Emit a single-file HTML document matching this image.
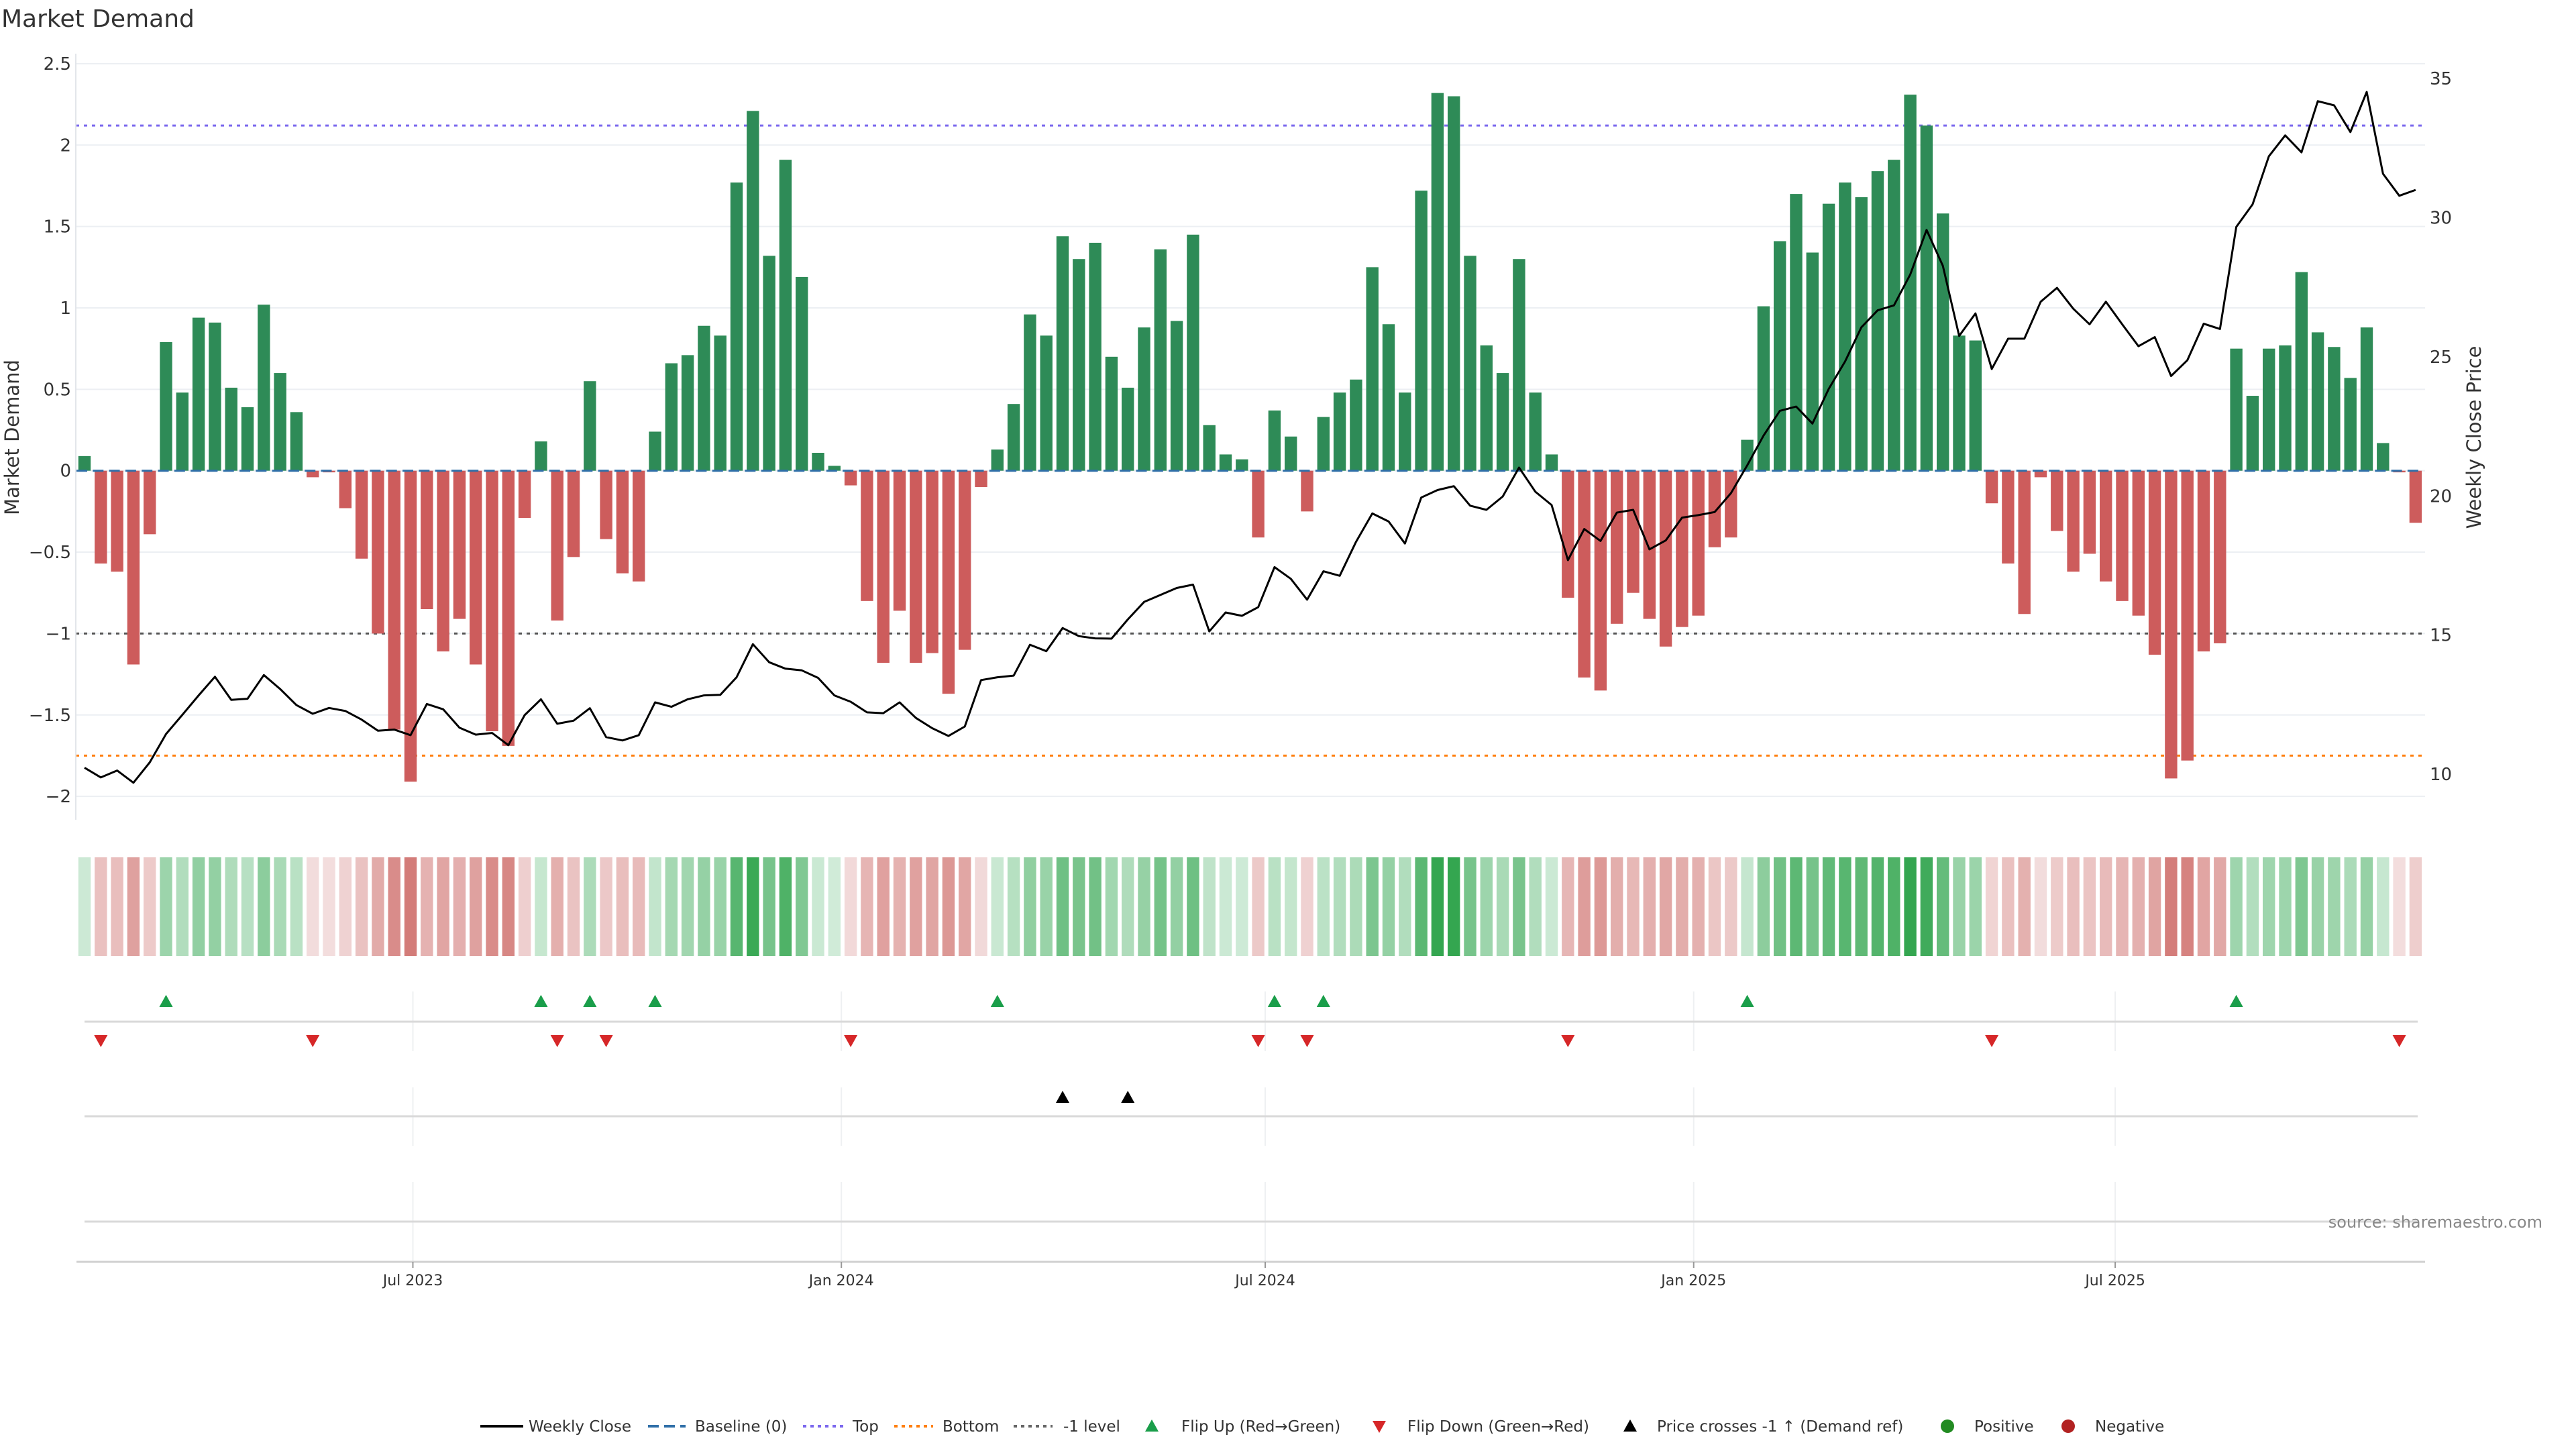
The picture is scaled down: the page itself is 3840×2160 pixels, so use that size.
<!DOCTYPE html>
<html><head><meta charset="utf-8"><title>Market Demand</title>
<style>
html,body{margin:0;padding:0;background:#fff;}
svg{display:block;font-family:"DejaVu Sans","Liberation Sans",sans-serif;}
</style></head>
<body>
<svg id="chart" width="3840" height="2160" viewBox="0 0 3840 2160" xmlns="http://www.w3.org/2000/svg">
<rect width="3840" height="2160" fill="#fff"/>
<text x="2" y="40" font-size="36" fill="#333">Market Demand</text>
<g id="grid"></g>
<g id="lines"></g>
<g id="bars"></g>
<g id="price"></g>
<g id="axes"></g>
<g id="strip"></g>
<g id="flips"></g>
<g id="legend"></g>
<text transform="translate(28,652) rotate(-90)" text-anchor="middle" font-size="29" fill="#333">Market Demand</text>
<text transform="translate(3698,652) rotate(-90)" text-anchor="middle" font-size="29" fill="#333">Weekly Close Price</text>
<text x="3790" y="1830" text-anchor="end" font-size="24" fill="#888">source: sharemaestro.com</text>
</svg>
<script>
const demand = [0.09,-0.57,-0.62,-1.19,-0.39,0.79,0.48,0.94,0.91,0.51,0.39,1.02,0.60,0.36,-0.04,-0.01,-0.23,-0.54,-1.00,-1.59,-1.91,-0.85,-1.11,-0.91,-1.19,-1.60,-1.69,-0.29,0.18,-0.92,-0.53,0.55,-0.42,-0.63,-0.68,0.24,0.66,0.71,0.89,0.83,1.77,2.21,1.32,1.91,1.19,0.11,0.03,-0.09,-0.80,-1.18,-0.86,-1.18,-1.12,-1.37,-1.10,-0.10,0.13,0.41,0.96,0.83,1.44,1.30,1.40,0.70,0.51,0.88,1.36,0.92,1.45,0.28,0.10,0.07,-0.41,0.37,0.21,-0.25,0.33,0.48,0.56,1.25,0.90,0.48,1.72,2.32,2.30,1.32,0.77,0.60,1.30,0.48,0.10,-0.78,-1.27,-1.35,-0.94,-0.75,-0.91,-1.08,-0.96,-0.89,-0.47,-0.41,0.19,1.01,1.41,1.70,1.34,1.64,1.77,1.68,1.84,1.91,2.31,2.12,1.58,0.83,0.80,-0.20,-0.57,-0.88,-0.04,-0.37,-0.62,-0.51,-0.68,-0.80,-0.89,-1.13,-1.89,-1.78,-1.11,-1.06,0.75,0.46,0.75,0.77,1.22,0.85,0.76,0.57,0.88,0.17,-0.01,-0.32];
const closePrice = [10.23,9.88,10.13,9.69,10.42,11.44,12.13,12.83,13.50,12.67,12.71,13.56,13.06,12.48,12.17,12.38,12.27,11.96,11.56,11.60,11.40,12.52,12.33,11.67,11.42,11.48,11.04,12.12,12.69,11.81,11.92,12.37,11.33,11.21,11.40,12.58,12.42,12.69,12.83,12.85,13.48,14.67,14.02,13.79,13.73,13.46,12.83,12.60,12.22,12.19,12.58,12.02,11.65,11.37,11.71,13.38,13.48,13.54,14.65,14.42,15.25,14.96,14.88,14.87,15.56,16.19,16.44,16.69,16.81,15.13,15.81,15.69,16.00,17.44,17.02,16.27,17.29,17.13,18.35,19.37,19.08,18.29,19.94,20.21,20.35,19.65,19.50,19.98,21.02,20.15,19.67,17.69,18.81,18.38,19.40,19.50,18.08,18.40,19.22,19.31,19.42,20.10,21.10,22.17,23.06,23.21,22.60,23.85,24.83,26.06,26.67,26.85,27.96,29.56,28.27,25.75,26.56,24.56,25.65,25.65,26.98,27.48,26.73,26.17,26.98,26.17,25.38,25.71,24.31,24.88,26.19,26.00,29.67,30.48,32.21,32.96,32.35,34.19,34.04,33.08,34.52,31.58,30.79,31.00];
const leftTicks = [2.5,2,1.5,1,0.5,0,-0.5,-1,-1.5,-2];
const leftTickLabels = ["2.5","2","1.5","1","0.5","0","\u22120.5","\u22121","\u22121.5","\u22122"];
const rightTicks = [35,30,25,20,15,10];
const dateTicks = ["2023-07-01","2024-01-01","2024-07-01","2025-01-01","2025-07-01"];
const dateTickLabels = ["Jul 2023","Jan 2024","Jul 2024","Jan 2025","Jul 2025"];
const firstWeek = "2023-02-10";
const topLevel = 2.12;
const bottomLevel = -1.75;
const refLevel = -1;

const NS = "http://www.w3.org/2000/svg";
function mk(tag, attrs, parent){const e=document.createElementNS(NS,tag);for(const k in attrs)e.setAttribute(k,attrs[k]);parent.appendChild(e);return e;}
const PL=113, PR=3615, X0=126, STEP=24.3;
const xi = i => X0 + i*STEP;
const t0 = Date.parse(firstWeek);
const xd = d => X0 + (Date.parse(d)-t0)/(7*864e5)*STEP;
const yL = v => 701.7 - v*242.7;
const yR = p => 117.2 + (35-p)*41.47;
const pToL = p => (701.7 - yR(p))/242.7;

const grid=document.getElementById('grid'), lines=document.getElementById('lines'), bars=document.getElementById('bars'),
 price=document.getElementById('price'), axes=document.getElementById('axes'), strip=document.getElementById('strip'),
 flips=document.getElementById('flips'), legend=document.getElementById('legend');

leftTicks.forEach((v,k)=>{
  const g=mk('line',{x1:PL,x2:PR,y1:yL(v),y2:yL(v),stroke:'#eceff3','stroke-width':2},grid);
  
  
  const t=mk('text',{x:106,y:yL(v)+9,'text-anchor':'end','font-size':26,fill:'#333'},axes);
  t.textContent=leftTickLabels[k];
  
  
});
rightTicks.forEach(p=>{
  const t=mk('text',{x:3622,y:yR(p)+9,'font-size':26,fill:'#333'},axes);
  t.textContent=String(p);
  
  
});
const la=mk('line',{x1:PL,x2:PL,y1:80,y2:1222,stroke:'#e3e6ea','stroke-width':2},axes);



function hline(v,color,dash,name,w){
  const l=mk('line',{x1:PL,x2:PR,y1:yL(v),y2:yL(v),stroke:color,'stroke-width':w||3,'stroke-dasharray':dash},lines);
  
  
}
hline(topLevel,'#7b68ee','5,7','top-line');
hline(bottomLevel,'#ff7f0e','5,7','bottom-line');
hline(refLevel,'#555','5,7','minus-one-level-line');

demand.forEach((v,i)=>{
  const y0=yL(0), y1=yL(v);
  const r=mk('rect',{x:xi(i)-9.2,width:18.4,y:Math.min(y0,y1),height:Math.max(1,Math.abs(y1-y0)),fill:v>=0?'#2e8b57':'#cd5c5c'},bars);
  
  
});
const bl=mk('line',{x1:X0-12,x2:PR-10,y1:yL(0),y2:yL(0),stroke:'#2f6fa8','stroke-width':3,'stroke-dasharray':'16,8.3'},bars);



const pts=closePrice.map((p,i)=>xi(i).toFixed(1)+','+yR(p).toFixed(1)).join(' ');
const pl=mk('polyline',{points:pts,fill:'none',stroke:'#000','stroke-width':3,'stroke-linejoin':'round'},price);



function cellColor(v){
  const t=Math.min(Math.abs(v)/2.3,1);
  const a=v>=0?[210,236,218]:[243,222,222], b=v>=0?[52,166,80]:[205,104,100];
  return 'rgb('+a.map((c,k)=>Math.round(c+(b[k]-c)*t)).join(',')+')';
}
demand.forEach((v,i)=>{
  const r=mk('rect',{x:xi(i)-9.2,width:18.4,y:1278,height:147,fill:cellColor(v)},strip);
  
  
});

[[1478,1567],[1621,1708],[1762,1880]].forEach(([a,b])=>{
  dateTicks.forEach(d=>{
    const g=mk('line',{x1:xd(d),x2:xd(d),y1:a,y2:b,stroke:'#eef0f2','stroke-width':2},grid);
    
    
  });
});
[1523,1664,1821].forEach(y=>{
  const l=mk('line',{x1:X0,x2:3604,y1:y,y2:y,stroke:'#d9d9d9','stroke-width':3},grid);
  
  
});
const xa=mk('line',{x1:114,x2:PR,y1:1881,y2:1881,stroke:'#d0d0d0','stroke-width':3},axes);


dateTicks.forEach((d,k)=>{
  const tk=mk('line',{x1:xd(d),x2:xd(d),y1:1881,y2:1890,stroke:'#999','stroke-width':2},axes);
  
  
  const t=mk('text',{x:xd(d),y:1916,'text-anchor':'middle','font-size':22,fill:'#333'},axes);
  t.textContent=dateTickLabels[k];
  
  
});

function tri(x,y,up,color,parent){
  const s=10;
  const p=up?`${x},${y-s} ${x-s},${y+s*0.8} ${x+s},${y+s*0.8}`:`${x},${y+s} ${x-s},${y-s*0.8} ${x+s},${y-s*0.8}`;
  return mk('polygon',{points:p,fill:color},parent);
}
for(let i=1;i<demand.length;i++){
  if(demand[i-1]<0 && demand[i]>=0){
    const m=tri(xi(i),1493,true,'#1a9e4a',flips);
    
    
  } else if(demand[i-1]>=0 && demand[i]<0){
    const m=tri(xi(i),1551,false,'#d62728',flips);
    
    
  }
  if(pToL(closePrice[i-1])<refLevel && pToL(closePrice[i])>=refLevel){
    const m=tri(xi(i),1636,true,'#000',flips);
    
    
  }
}

const LY=2126;
function legText(x,s){
  const t=mk('text',{x:x,y:LY+8,'font-size':23,fill:'#333'},legend);
  t.textContent=s;
  
  
}
function legLine(x1,x2,color,dash,w,name){
  const l=mk('line',{x1:x1,x2:x2,y1:LY,y2:LY,stroke:color,'stroke-width':w,'stroke-dasharray':dash},legend);
  
  
}
legLine(716,780,'#000','none',4,'legend-weekly-close'); legText(788,'Weekly Close');
legLine(966,1022,'#2f6fa8','16,8',4,'legend-baseline'); legText(1036,'Baseline (0)');
legLine(1197,1257,'#7b68ee','5,6',4,'legend-top'); legText(1271,'Top');
legLine(1333,1391,'#ff7f0e','5,6',4,'legend-bottom'); legText(1405,'Bottom');
legLine(1511,1569,'#666','5,6',4,'legend-minus-one'); legText(1585,'-1 level');
let m;
m=tri(1717,LY,true,'#1a9e4a',legend);


legText(1761,'Flip Up (Red\u2192Green)');
m=tri(2056,LY,false,'#d62728',legend);


legText(2098,'Flip Down (Green\u2192Red)');
m=tri(2430,LY,true,'#000',legend);


legText(2470,'Price crosses -1 \u2191 (Demand ref)');
m=mk('circle',{cx:2903,cy:LY,r:10,fill:'#228b22'},legend);


legText(2943,'Positive');
m=mk('circle',{cx:3083,cy:LY,r:10,fill:'#b22222'},legend);


legText(3123,'Negative');
</script>
</body></html>
